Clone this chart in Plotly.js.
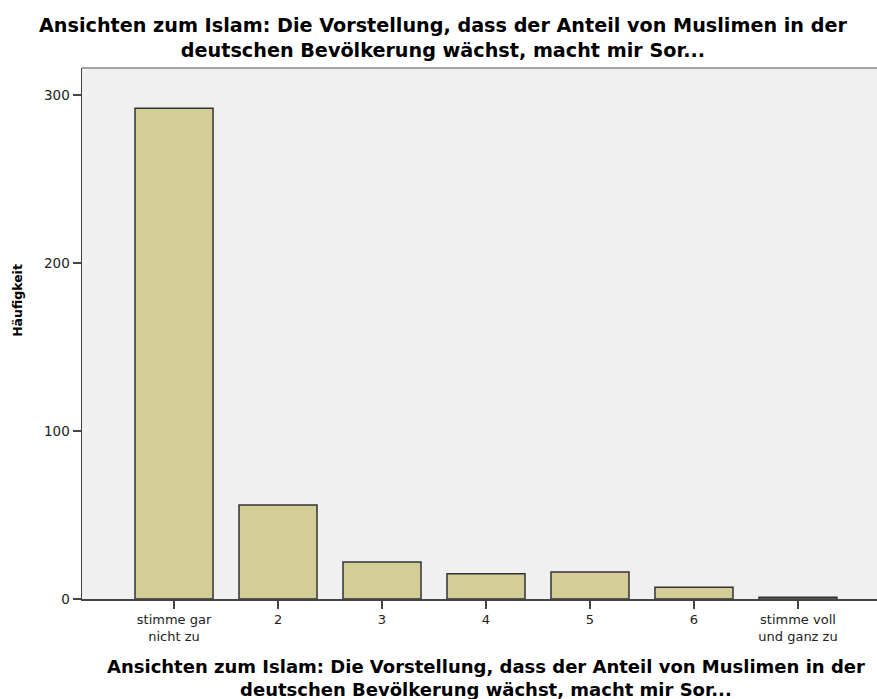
<!DOCTYPE html>
<html>
<head>
<meta charset="utf-8">
<script src="https://cdn.plot.ly/plotly-3.0.1.min.js"></script>
<style>html,body{margin:0;padding:0;background:#fff;}#chart{width:877px;height:699px;}</style>
</head>
<body>
<div id="chart"></div>
<script>
var categories = ["stimme gar<br>nicht zu", "2", "3", "4", "5", "6", "stimme voll<br>und ganz zu"];
var counts = [292, 56, 22, 15, 16, 7, 1];
var yTicks = [0, 100, 200, 300];
var titleText = "Ansichten zum Islam: Die Vorstellung, dass der Anteil von Muslimen in der<br>deutschen Bevölkerung wächst, macht mir Sor...";
var yTitle = "Häufigkeit";

var trace = {
  type: "bar",
  x: categories.map(function(c, i){ return i; }),
  y: counts,
  width: 0.75,
  marker: {color: "#d3ce98", line: {color: "#333333", width: 1.5}},
  hoverinfo: "none"
};

var layout = {
  width: 877, height: 699,
  margin: {l: 82, r: 0, t: 68, b: 100, pad: 0},
  paper_bgcolor: "#ffffff",
  plot_bgcolor: "#f0f0f0",
  font: {family: "DejaVu Sans, sans-serif", size: 13, color: "#222"},
  showlegend: false,
  xaxis: {
    range: [-0.885, 6.76],
    tickmode: "array",
    tickvals: categories.map(function(c, i){ return i; }),
    ticktext: categories,
    ticks: "outside", ticklen: 8, tickwidth: 1.5, tickcolor: "#444",
    showline: true, linecolor: "#444", linewidth: 1.5,
    showgrid: false, zeroline: false,
    tickfont: {family: "DejaVu Sans, sans-serif", size: 13, color: "#222"},
    fixedrange: true
  },
  yaxis: {
    range: [0, 316],
    tickmode: "array",
    tickvals: yTicks,
    ticks: "outside", ticklen: 8, tickwidth: 1.5, tickcolor: "#444",
    showline: true, linecolor: "#444", linewidth: 1.5,
    showgrid: false, zeroline: false,
    tickfont: {family: "DejaVu Sans, sans-serif", size: 13.5, color: "#222"},
    fixedrange: true
  },
  shapes: [{
    type: "line", xref: "paper", yref: "paper", x0: 0, x1: 1, y0: 1, y1: 1,
    line: {color: "#888", width: 1.5}
  }],
  annotations: [
    {
      text: titleText, xref: "paper", yref: "paper", x: 0.4535, y: 1.0565,
      xanchor: "center", yanchor: "middle", showarrow: false,
      font: {family: "DejaVu Sans, sans-serif", size: 19.2, color: "#000", weight: "bold"}
    },
    {
      text: titleText, xref: "paper", yref: "paper", x: 0.508, y: -0.104,
      xanchor: "center", yanchor: "top", showarrow: false,
      font: {family: "DejaVu Sans, sans-serif", size: 18, color: "#000", weight: "bold"}
    },
    {
      text: yTitle, xref: "paper", yref: "paper", x: -0.082, y: 0.563,
      xanchor: "center", yanchor: "middle", textangle: -90, showarrow: false,
      font: {family: "DejaVu Sans, sans-serif", size: 12.5, color: "#000", weight: "bold"}
    }
  ]
};

Plotly.newPlot("chart", [trace], layout, {displayModeBar: false, staticPlot: true});
</script>
</body>
</html>
